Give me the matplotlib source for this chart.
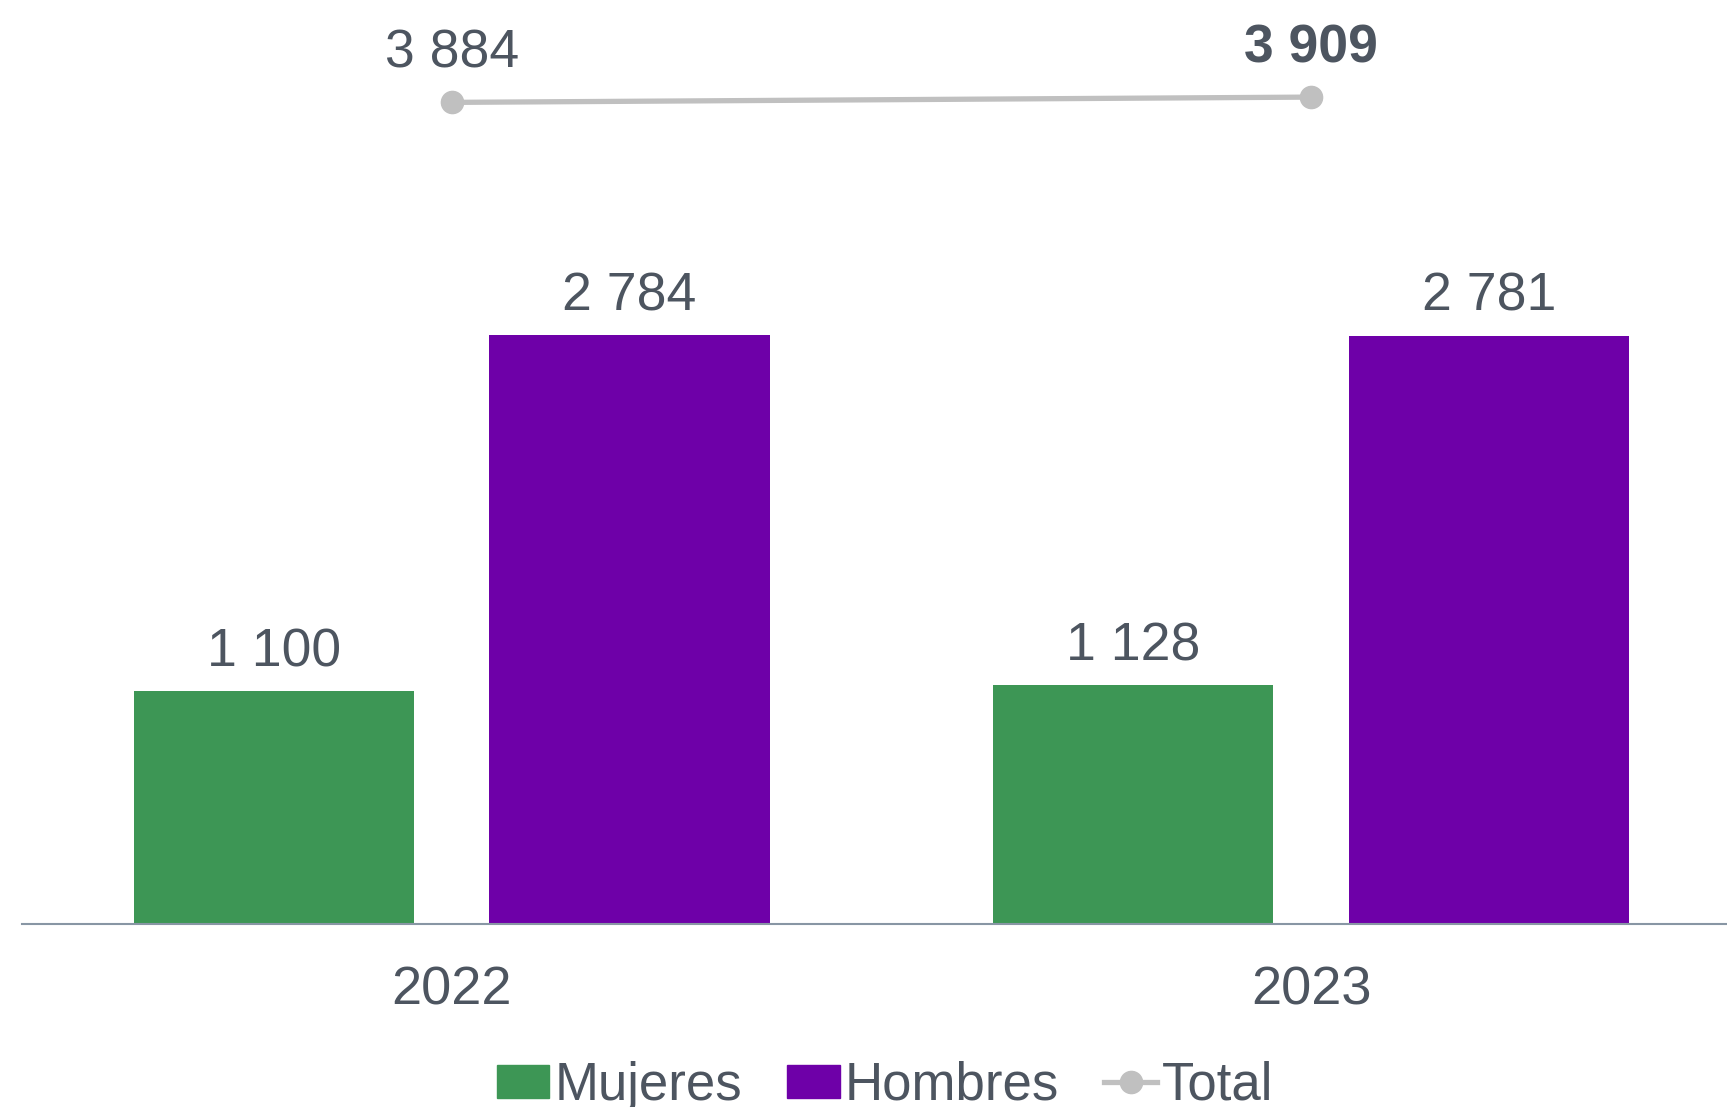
import matplotlib
matplotlib.use('Agg')
import matplotlib.pyplot as plt
from matplotlib.lines import Line2D
from matplotlib.patches import Patch
import numpy as np

plt.rcParams['font.family'] = ['Liberation Sans', 'DejaVu Sans']

years = ['2022', '2023']
mujeres = [1100, 1128]
hombres = [2784, 2781]
total = [3884, 3909]

green = '#3D9655'
purple = '#6E00A8'
grey = '#C0C0C0'
txt = '#4D5560'

def fmt(v):
    return f'{v:,}'.replace(',', ' ')

fig = plt.figure(figsize=(17.27, 11.07), dpi=100)
ax = fig.add_axes([22/1727, 1 - 924/1107, 1 - 22/1727, 924/1107])

x = np.arange(len(years))
w = 0.326
off = 0.207
b1 = ax.bar(x - off, mujeres, w, color=green)
b2 = ax.bar(x + off, hombres, w, color=purple)
ax.plot(x, total, color=grey, lw=3.8, marker='o', ms=16, zorder=3)

for bars, vals in [(b1, mujeres), (b2, hombres)]:
    for b, v in zip(bars, vals):
        ax.annotate(fmt(v), (b.get_x() + b.get_width() / 2, v), xytext=(0, 10),
                    textcoords='offset points', ha='center', va='bottom',
                    fontsize=38.5, color=txt)

for i, v in enumerate(total):
    ax.annotate(fmt(v), (x[i], v), xytext=(0, 17), textcoords='offset points',
                ha='center', va='bottom', fontsize=38.5, color=txt,
                fontweight='bold' if i == 1 else 'normal')

ax.set_xlim(-0.5, 1.484)
ax.set_ylim(0, 4368)
for s in ['top', 'left', 'right']:
    ax.spines[s].set_visible(False)
ax.spines['bottom'].set_color('#8896A4')
ax.spines['bottom'].set_linewidth(1.5)
ax.set_yticks([])
ax.set_xticks(x)
ax.set_xticklabels(years, fontsize=39, color=txt)
ax.tick_params(axis='x', length=0, pad=30)

handles = [Patch(color=green), Patch(color=purple),
           Line2D([], [], color=grey, lw=3.8, marker='o', ms=16)]
fig.legend(handles, ['Mujeres', 'Hombres', 'Total'], loc='center',
           bbox_to_anchor=(0.5125, 1 - 1086/1107), ncol=3, frameon=False,
           fontsize=38, labelcolor=txt, handlelength=1.0, handleheight=0.6,
           handletextpad=0.1, columnspacing=0.85, borderpad=0)

fig.savefig('out.png', dpi=100)
